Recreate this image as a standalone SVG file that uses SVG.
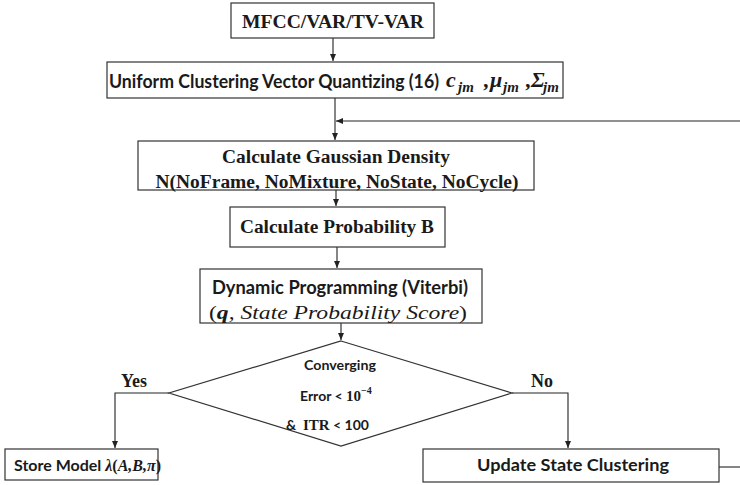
<svg xmlns="http://www.w3.org/2000/svg" width="740" height="485" viewBox="0 0 740 485">
  <style>
    .box { fill: #ffffff; stroke: #333333; stroke-width: 1.2; }
    .ln { fill: none; stroke: #222222; stroke-width: 1.1; }
    .tnr { font-family: "Liberation Serif", serif; font-weight: bold; fill: #1a1a1a; }
    .cal { font-family: Lato, "Liberation Sans", sans-serif; font-weight: bold; fill: #1a1a1a; }
    .mth { font-family: "Liberation Serif", serif; font-style: italic; fill: #1a1a1a; }
  </style>
  <defs>
    <marker id="arrow" markerWidth="7" markerHeight="6" refX="7" refY="3" orient="auto" markerUnits="userSpaceOnUse">
      <path d="M0,0 L7,3 L0,6 z" fill="#222222"/>
    </marker>
  </defs>

  <rect width="740" height="485" fill="#ffffff"/>

  <!-- connectors -->
  <g id="connectors">
    <line class="ln" x1="333" y1="38" x2="333" y2="61" marker-end="url(#arrow)"/>
    <line class="ln" x1="335" y1="98" x2="335" y2="140" marker-end="url(#arrow)"/>
    <line class="ln" x1="740" y1="121" x2="336" y2="121" marker-end="url(#arrow)"/>
    <line class="ln" x1="336" y1="190" x2="336" y2="206" marker-end="url(#arrow)"/>
    <line class="ln" x1="337" y1="247" x2="337" y2="268" marker-end="url(#arrow)"/>
    <line class="ln" x1="341" y1="323" x2="341" y2="340" marker-end="url(#arrow)"/>
    <polyline class="ln" points="169,393 115,393 115,448" marker-end="url(#arrow)"/>
    <polyline class="ln" points="512,393 568,393 568,448" marker-end="url(#arrow)"/>
    <line class="ln" x1="719" y1="467" x2="740" y2="467"/>
  </g>

  <!-- feature extraction -->
  <g id="features">
    <rect class="box" x="231" y="3" width="203" height="35"/>
    <text class="tnr" x="333" y="28" font-size="19" text-anchor="middle" textLength="182" lengthAdjust="spacingAndGlyphs">MFCC/VAR/TV-VAR</text>
  </g>

  <!-- vector quantization -->
  <g id="quantizing">
    <rect class="box" x="107" y="62" width="456" height="36"/>
    <text class="cal" x="109" y="88" font-size="18" textLength="330" lengthAdjust="spacingAndGlyphs">Uniform Clustering Vector Quantizing (16)</text>
    <text class="mth" y="87" font-weight="bold" font-size="22">
      <tspan x="446">c</tspan><tspan x="458" dy="5" font-size="15">jm</tspan>
      <tspan x="484" dy="-5">,</tspan><tspan x="490">μ</tspan><tspan x="503" dy="5" font-size="15">jm</tspan>
      <tspan x="526" dy="-5">,</tspan><tspan x="531">Σ</tspan><tspan x="543" dy="5" font-size="15">jm</tspan>
    </text>
  </g>

  <!-- gaussian density -->
  <g id="gaussian">
    <rect class="box" x="138" y="141" width="396" height="49"/>
    <text class="tnr" x="336" y="163" font-size="18" text-anchor="middle" textLength="228" lengthAdjust="spacingAndGlyphs">Calculate Gaussian Density</text>
    <text class="tnr" x="337" y="188" font-size="18" text-anchor="middle" textLength="363" lengthAdjust="spacingAndGlyphs">N(NoFrame, NoMixture, NoState, NoCycle)</text>
  </g>

  <!-- probability -->
  <g id="probability">
    <rect class="box" x="230" y="207" width="215" height="40"/>
    <text class="tnr" x="337" y="233" font-size="18" text-anchor="middle" textLength="194" lengthAdjust="spacingAndGlyphs">Calculate Probability B</text>
  </g>

  <!-- viterbi -->
  <g id="viterbi">
    <rect class="box" x="200" y="269" width="282" height="54"/>
    <text class="cal" x="340" y="294" font-size="18" text-anchor="middle" textLength="256" lengthAdjust="spacingAndGlyphs">Dynamic Programming (Viterbi)</text>
    <text class="mth" x="338" y="319" font-size="19" text-anchor="middle" textLength="258" lengthAdjust="spacingAndGlyphs"><tspan font-style="normal">(</tspan><tspan font-weight="bold">q</tspan>, State Probability Score<tspan font-style="normal">)</tspan></text>
  </g>

  <!-- convergence test -->
  <g id="converging">
    <polygon class="box" points="341,341 512,393 341,446 169,393"/>
    <text class="cal" x="340" y="370" font-size="14" text-anchor="middle" textLength="72" lengthAdjust="spacingAndGlyphs">Converging</text>
    <text y="401" font-size="14">
      <tspan class="cal" x="300">Error &lt; </tspan><tspan class="tnr" font-weight="normal" font-size="15">10</tspan><tspan class="tnr" font-weight="normal" font-size="10" dy="-7">−4</tspan>
    </text>
    <text y="430" font-size="14">
      <tspan class="cal" x="286">&amp;</tspan><tspan class="tnr" font-weight="normal" font-size="15" x="303">ITR</tspan><tspan class="cal"> &lt; 100</tspan>
    </text>
    <text class="tnr" x="134" y="387" font-size="18" text-anchor="middle">Yes</text>
    <text class="tnr" x="542" y="387" font-size="18" text-anchor="middle">No</text>
  </g>

  <!-- store model -->
  <g id="store">
    <rect class="box" x="5" y="449" width="153" height="31"/>
    <text x="14" y="471"><tspan class="cal" font-size="16">Store Model </tspan><tspan class="mth" font-size="16" font-weight="bold">λ<tspan font-style="normal">(</tspan>A,B,π<tspan font-style="normal">)</tspan></tspan></text>
  </g>

  <!-- update clustering -->
  <g id="update">
    <rect class="box" x="423" y="449" width="296" height="33"/>
    <text class="cal" x="573" y="471" font-size="17" text-anchor="middle" textLength="192" lengthAdjust="spacingAndGlyphs">Update State Clustering</text>
  </g>
</svg>
